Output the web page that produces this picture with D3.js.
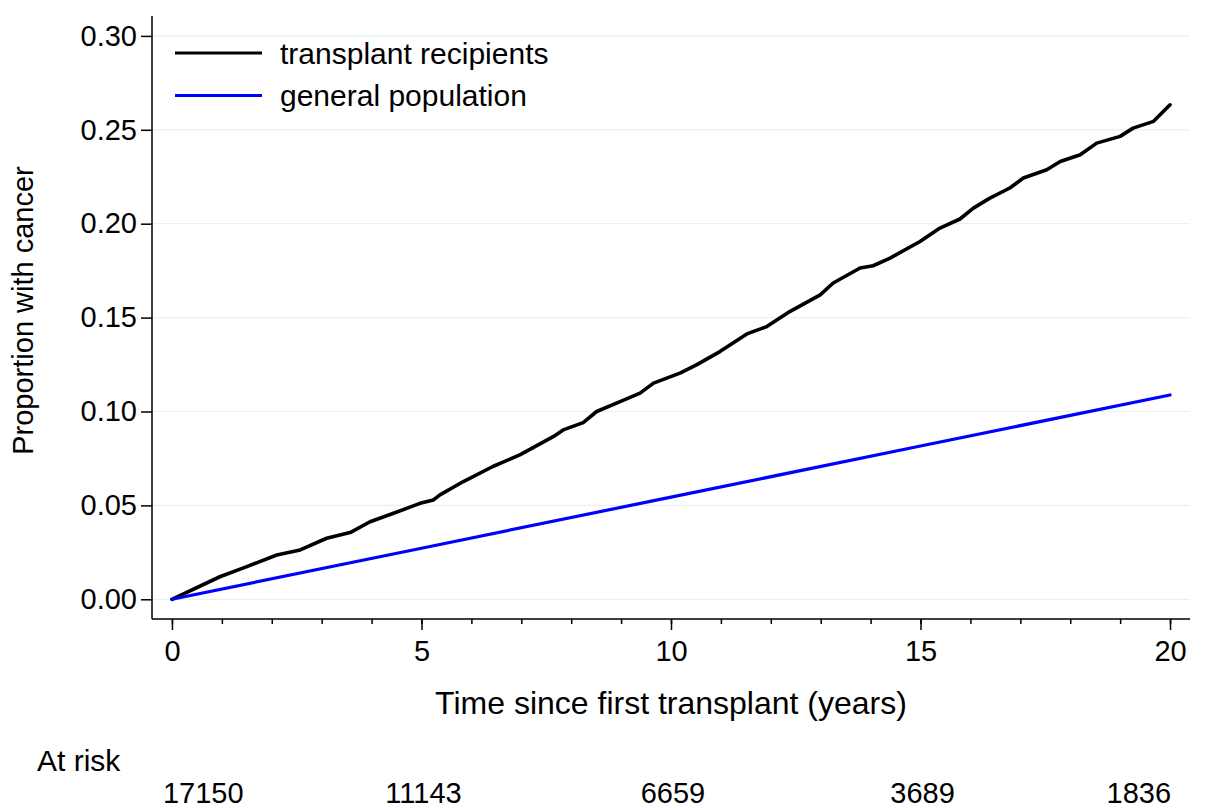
<!DOCTYPE html>
<html>
<head>
<meta charset="utf-8">
<script src="https://cdn.jsdelivr.net/npm/d3@7"></script>
<style>
  body { margin: 0; background: #fff; }
  svg text { font-family: "Liberation Sans", Arial, sans-serif; fill: #000; }
</style>
</head>
<body>
<div id="chart"></div>
<script>
// cumulative incidence
const transplantYears = [0, 0.96, 1.5, 2.1, 2.57, 3.1, 3.57, 3.97, 4.44, 4.97, 5.24, 5.37, 5.84, 6.43,
  6.97, 7.64, 7.84, 8.24, 8.51, 8.98, 9.38, 9.65, 10.18, 10.51, 10.98, 11.52, 11.92, 12.38, 12.99,
  13.25, 13.79, 14.05, 14.39, 14.99, 15.39, 15.79, 16.06, 16.39, 16.79, 17.06, 17.53, 17.8, 18.2,
  18.53, 19.0, 19.26, 19.67, 20.0];
const transplantProp = [0, 0.012, 0.0174, 0.0236, 0.0263, 0.0325, 0.0355, 0.0413, 0.0458, 0.0511,
  0.0529, 0.0556, 0.0627, 0.0707, 0.0769, 0.0866, 0.0902, 0.0941, 0.1, 0.1053, 0.1098, 0.1151,
  0.1204, 0.1248, 0.1319, 0.1413, 0.1452, 0.1532, 0.1621, 0.1684, 0.1764, 0.1776, 0.1817, 0.1905,
  0.1977, 0.2025, 0.2083, 0.2136, 0.219, 0.2243, 0.2287, 0.2331, 0.2367, 0.2429, 0.2465, 0.2509,
  0.2545, 0.2633];

const generalYears = [0, 5, 10, 15, 20];
const generalProp = [0, 0.0272, 0.0544, 0.0816, 0.1088];

const seriesNames = ["transplant recipients", "general population"];
const seriesColors = ["#000000", "#0000ff"];

const atRiskYears = [0, 5, 10, 15, 20];
const atRiskCounts = [17150, 11143, 6659, 3689, 1836];

const yTicks = [0, 0.05, 0.10, 0.15, 0.20, 0.25, 0.30];
const xMajorTicks = [0, 5, 10, 15, 20];
const xMinorTicks = d3.range(0, 21);

const width = 1208, height = 810;
const plot = { left: 152, right: 1190, top: 16, bottom: 619 };

const svg = d3.select("#chart").append("svg")
  .attr("width", width)
  .attr("height", height);

const x = d3.scaleLinear().domain([-0.4, 20.4]).range([plot.left, plot.right]);
const y = d3.scaleLinear().domain([-0.0105, 0.3106]).range([plot.bottom, plot.top]);

// light gridlines
svg.append("g")
  .selectAll("line")
  .data(yTicks)
  .join("line")
  .attr("x1", plot.left)
  .attr("x2", plot.right)
  .attr("y1", (d) => y(d))
  .attr("y2", (d) => y(d))
  .attr("stroke", "#eaeff0")
  .attr("stroke-width", 1.2);

// y axis
const yAxis = svg.append("g")
  .attr("transform", `translate(${plot.left},0)`)
  .call(d3.axisLeft(y).tickValues(yTicks).tickFormat(d3.format(".2f")).tickSize(11).tickPadding(4));
yAxis.select(".domain").attr("d", `M0,${plot.top}V${plot.bottom}`).attr("stroke-width", 1.5);
yAxis.selectAll(".tick line").attr("stroke-width", 1.5);
yAxis.selectAll("text").style("font-size", "29px").style("font-family", null);

// x axis, minor ticks first
const xMinor = svg.append("g")
  .attr("transform", `translate(0,${plot.bottom})`)
  .call(d3.axisBottom(x).tickValues(xMinorTicks).tickSize(5).tickFormat(""));
xMinor.select(".domain").remove();
xMinor.selectAll(".tick line").attr("stroke-width", 1.5);

const xAxis = svg.append("g")
  .attr("transform", `translate(0,${plot.bottom})`)
  .call(d3.axisBottom(x).tickValues(xMajorTicks).tickSize(11).tickPadding(10));
xAxis.select(".domain").attr("d", `M${plot.left},0H${plot.right}`).attr("stroke-width", 1.5);
xAxis.selectAll(".tick line").attr("stroke-width", 1.5);
xAxis.selectAll("text").style("font-size", "29px").style("font-family", null);

// axis titles
svg.append("text")
  .attr("transform", `translate(33,${(plot.top + plot.bottom) / 2 - 7}) rotate(-90)`)
  .style("text-anchor", "middle")
  .style("font-size", "29px")
  .text("Proportion with cancer");

svg.append("text")
  .attr("x", (plot.left + plot.right) / 2)
  .attr("y", 714)
  .style("text-anchor", "middle")
  .style("font-size", "32px")
  .text("Time since first transplant (years)");

// lines
const line = d3.line()
  .x((d) => x(d[0]))
  .y((d) => y(d[1]));

const series = [
  d3.zip(transplantYears, transplantProp),
  d3.zip(generalYears, generalProp),
];

svg.append("g")
  .selectAll("path")
  .data(series)
  .join("path")
  .attr("d", line)
  .attr("fill", "none")
  .attr("stroke", (d, i) => seriesColors[i])
  .attr("stroke-width", (d, i) => (i === 0 ? 3.6 : 3.2))
  .attr("stroke-linejoin", "round")
  .attr("stroke-linecap", "round");

// legend
const legend = svg.append("g").attr("transform", "translate(175,53)");
const items = legend.selectAll("g")
  .data(seriesNames)
  .join("g")
  .attr("transform", (d, i) => `translate(0,${i * 42.5})`);
items.append("line")
  .attr("x1", 0).attr("x2", 87)
  .attr("stroke", (d, i) => seriesColors[i])
  .attr("stroke-width", 3);
items.append("text")
  .attr("x", 105)
  .attr("dy", "0.35em")
  .style("font-size", "30px")
  .text((d) => d);

// at risk table
svg.append("text")
  .attr("x", 37)
  .attr("y", 771)
  .style("font-size", "30px")
  .text("At risk");

const last = atRiskCounts.length - 1;
svg.append("g")
  .selectAll("text")
  .data(atRiskCounts)
  .join("text")
  .attr("x", (d, i) => x(atRiskYears[i]) + (i === 0 ? -9 : i === last ? 1 : 2))
  .attr("y", 803)
  .style("text-anchor", (d, i) => (i === 0 ? "start" : i === last ? "end" : "middle"))
  .style("font-size", "29px")
  .text((d) => d);
</script>
</body>
</html>
